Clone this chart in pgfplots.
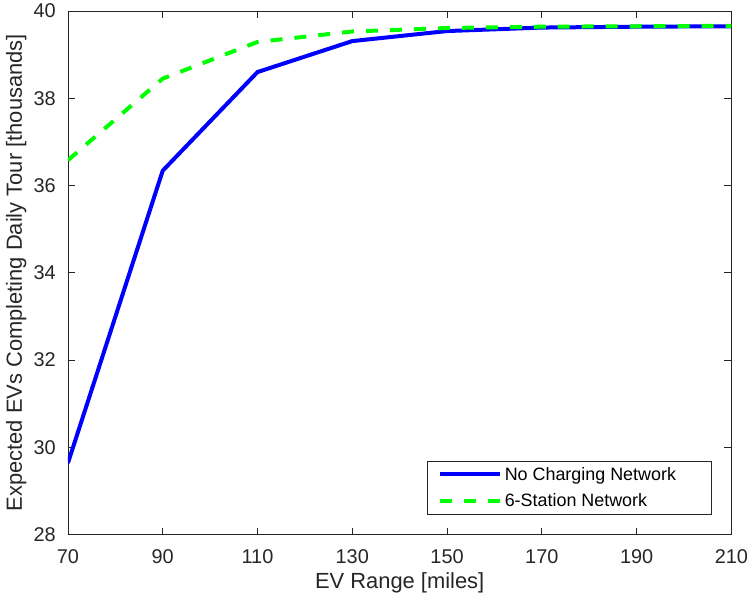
\documentclass[border=0pt]{standalone}
\usepackage{fontspec}
\setmainfont{Liberation Sans}
\usepackage{pgfplots}
\pgfplotsset{compat=1.18}
\definecolor{axgray}{RGB}{38,38,38}
\begin{document}
\begin{tikzpicture}
\begin{axis}[
  scale only axis,
  width=664bp, height=524bp,
  xmin=70, xmax=210, ymin=28, ymax=40,
  xtick={70,90,...,210}, ytick={28,30,...,40},
  /pgf/number format/assume math mode=true,
  axis line style={axgray, line width=0.8bp},
  every tick/.style={axgray, line width=0.8bp},
  major tick length=7bp,
  tick label style={font=\fontsize{20}{24}\selectfont, text=axgray},
  xticklabel style={inner sep=0pt, anchor=north, yshift=-15bp},
  yticklabel style={inner sep=0pt, anchor=east, xshift=-12bp},
  xlabel={EV Range [miles]},
  ylabel={Expected EVs Completing Daily Tour [thousands]},
  label style={font=\fontsize{22}{26}\selectfont, text=axgray},
  xlabel style={at={(axis description cs:0.5,-0.103)}, anchor=base, inner sep=0pt},
  ylabel style={at={(axis description cs:-0.0693,0.5)}, anchor=base, rotate=0, inner sep=0pt},
  legend cell align=left,
  legend image code/.code={\draw[#1] (0bp,0bp) -- (60bp,0bp);},
  legend style={at={(axis description cs:1,0)}, anchor=south east,
    xshift=-20bp, yshift=20bp, draw=axgray, line width=0.8bp,
    font=\fontsize{18}{21}\selectfont, inner xsep=10bp, inner ysep=3bp,
    row sep=6bp, nodes={inner sep=3bp}},
]
\addplot[color={rgb,255:red,0;green,0;blue,255}, line width=4bp] coordinates {
 (70,29.64) (90,36.34) (110,38.60) (130,39.31) (150,39.54) (170,39.62) (190,39.64) (210,39.65)};
\addlegendentry{No Charging Network\rule{22bp}{0pt}}
\addplot[color={rgb,255:red,0;green,255;blue,0}, line width=4bp, dash pattern=on 12bp off 12bp] coordinates {
 (70,36.58) (90,38.45) (110,39.29) (130,39.53) (150,39.61) (170,39.64) (190,39.65) (210,39.66)};
\addlegendentry{6-Station Network}
\end{axis}
\path (current axis.south west) ++(-68bp,-63bp) coordinate (bbsw);
\path (current axis.south west) ++(680bp,535bp) coordinate (bbne);
\useasboundingbox (bbsw) rectangle (bbne);
\end{tikzpicture}
\end{document}
